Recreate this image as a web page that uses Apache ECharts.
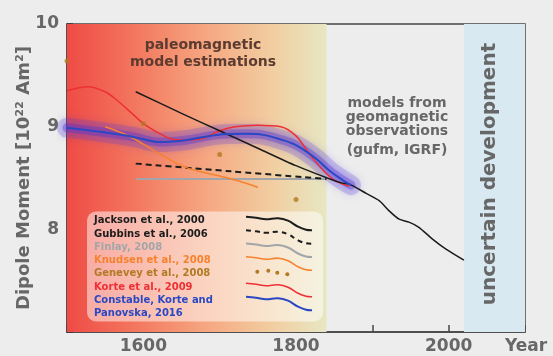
<!DOCTYPE html>
<html><head><meta charset="utf-8">
<script src="https://cdn.jsdelivr.net/npm/echarts@6/dist/echarts.min.js"></script>
<style>html,body{margin:0;padding:0;background:#ededed}#c{width:553px;height:356px}</style>
</head><body><div id="c"></div>
<script>
// ---- data ----
const jacksonYears  = [1590,1650,1700,1750,1800,1848,1861,1870,1892,1909,1922,1935,1948,1961,1978,1996,2020];
const jacksonValues = [9.34,9.13,8.96,8.79,8.62,8.48,8.45,8.44,8.35,8.28,8.18,8.10,8.07,8.02,7.91,7.81,7.70];
const gubbinsYears  = [1590,1715,1840];
const gubbinsValues = [8.64,8.565,8.49];
const finlayYears   = [1590,1715,1840];
const finlayValues  = [8.49,8.49,8.49];
const knudsenYears  = [1550,1575,1600,1625,1650,1675,1700,1725,1750];
const knudsenValues = [9.00,8.93,8.83,8.72,8.62,8.56,8.52,8.47,8.41];
const geneveyYears  = [1500,1600,1700,1800];
const geneveyValues = [9.64,9.03,8.73,8.29];
const korteYears    = [1500,1528,1550,1565,1585,1600,1622,1640,1660,1680,1700,1720,1750,1780,1800,1818,1835,1850,1870];
const korteValues   = [9.35,9.39,9.34,9.26,9.13,9.03,8.93,8.875,8.87,8.89,8.96,9.00,9.015,9.00,8.91,8.73,8.58,8.48,8.42];
const constableYears  = [1500,1543,1587,1622,1657,1696,1735,1757,1778,1800,1826,1844,1861,1872];
const constableValues = [8.99,8.95,8.90,8.85,8.87,8.92,8.93,8.92,8.88,8.82,8.69,8.57,8.48,8.43];
const xTickLabels = [1600,1800,2000];
const yTickLabels = [8,9,10];
const legendLabels = ['Jackson et al., 2000','Gubbins et al., 2006','Finlay, 2008','Knudsen et al., 2008','Genevey et al., 2008','Korte et al., 2009','Constable, Korte and','Panovska, 2016'];
const paleoEnd = 1840, uncertainStart = 2020;

const zip = (a,b) => a.map((v,i)=>[v,b[i]]);
const F = 'DejaVu Sans';
const GREY = '#676767';
const chart = echarts.init(document.getElementById('c'), null, {renderer:'canvas'});

const gradient = {type:'linear',x:0,y:0,x2:1,y2:0,colorStops:[
  {offset:0,color:'#ef4b45'},{offset:0.28,color:'#f37a60'},{offset:0.55,color:'#f6a983'},
  {offset:0.8,color:'#f1cfa2'},{offset:1,color:'#e7e7c3'}]};

// legend symbol wave (offsets)
const wave = [[0,0],[10,1],[20,2.5],[32,1.5],[42,4],[52,10],[60,13],[66,13.5]];
const legendColors = ['#1c1c1c','#1c1c1c','#a2a6aa','#f7822e','#b27a22','#ee3034','#2a48c4','#2a48c4'];
const legendTextY = [220.7,234,247.3,260.3,273.7,287,300.3,313.3];
const graphics = [];
graphics.push({type:'rect',left:87,top:211.5,shape:{width:236,height:110,r:9},style:{fill:'rgba(255,255,255,0.5)'},z:50});
legendLabels.forEach((t,i)=>{
  graphics.push({type:'text',x:94,y:legendTextY[i],style:{text:t,font:'bold 10px "'+F+'"',fill:legendColors[i],textAlign:'left',textVerticalAlign:'middle'},z:51});
});
const symRows = [
  {y:216.7,c:'#1c1c1c',dash:null,w:2},
  {y:230.3,c:'#1c1c1c',dash:[5,4],w:2},
  {y:243.5,c:'#a2a6aa',dash:null,w:2},
  {y:256.7,c:'#f7822e',dash:null,w:1.6},
  {y:283.3,c:'#ee3034',dash:null,w:1.6},
  {y:296.7,c:'#2a48c4',dash:null,w:2}
];
symRows.forEach(r=>{
  graphics.push({type:'polyline',shape:{points:wave.map(p=>[246+p[0],r.y+p[1]]),smooth:0.4},
    style:{stroke:r.c,lineWidth:r.w,lineDash:r.dash,fill:null},z:51});
});
[[257.3,271.7],[268.3,270.7],[277.3,272.7],[287.3,274.3]].forEach(p=>{
  graphics.push({type:'circle',shape:{cx:p[0],cy:p[1],r:2},style:{fill:'#b27a22'},z:51});
});
graphics.push({type:'text',x:203,y:45,style:{text:'paleomagnetic',font:'bold 14px "'+F+'"',fill:'#5c3b31',textAlign:'center',textVerticalAlign:'middle'},z:51});
graphics.push({type:'text',x:203,y:62.7,style:{text:'model estimations',font:'bold 14px "'+F+'"',fill:'#5c3b31',textAlign:'center',textVerticalAlign:'middle'},z:51});
[['models from',103.3],['geomagnetic',117.3],['observations',131],['(gufm, IGRF)',150.7]].forEach(l=>{
  graphics.push({type:'text',x:397,y:l[1],style:{text:l[0],font:'bold 14px "'+F+'"',fill:GREY,textAlign:'center',textVerticalAlign:'middle'},z:51});
});
graphics.push({type:'text',x:490,y:174,rotation:Math.PI/2,style:{text:'uncertain development',font:'bold 20px "'+F+'"',fill:GREY,textAlign:'center',textVerticalAlign:'middle'},z:51});

const lineBase = {type:'line',showSymbol:false,symbol:'none',smooth:0.35,z:3};
const constableData = zip(constableYears,constableValues);
chart.setOption({
  backgroundColor:'#ededed',
  animation:false,
  grid:{left:67,right:28,top:24,bottom:24,show:true,borderColor:'#454545',borderWidth:1.5,backgroundColor:'transparent',containLabel:false},
  xAxis:{type:'value',min:1500,max:2100,interval:100,
    name:'Year',nameLocation:'end',nameGap:-20,nameMoveOverlap:false,
    nameTextStyle:{fontFamily:F,fontWeight:'bold',fontSize:17,color:GREY,align:'left',verticalAlign:'top',padding:[6,0,0,0]},
    axisLine:{show:true,onZero:false,lineStyle:{color:'#454545',width:1.5}},
    axisTick:{show:true,inside:true,length:7,lineStyle:{color:'#454545',width:1.5}},
    axisLabel:{fontFamily:F,fontWeight:'bold',fontSize:17,color:GREY,margin:6,
      formatter:v=>xTickLabels.includes(v)?String(v):''},
    splitLine:{show:false}},
  yAxis:{type:'value',min:7,max:10,interval:1,
    name:'Dipole Moment [10²² Am²]',nameLocation:'middle',nameGap:34,nameRotate:90,nameMoveOverlap:false,
    nameTextStyle:{fontFamily:F,fontWeight:'bold',fontSize:18,color:GREY},
    axisLine:{show:true,onZero:false,lineStyle:{color:'#454545',width:1.5}},
    axisTick:{show:true,inside:true,length:6,lineStyle:{color:'#333',width:1.5}},
    axisLabel:{fontFamily:F,fontWeight:'bold',fontSize:17,color:GREY,margin:8,
      formatter:v=>yTickLabels.includes(v)?String(v):''},
    splitLine:{show:false}},
  graphic:{elements:graphics},
  series:[
    {type:'line',data:[],z:-1,silent:true,
      markArea:{silent:true,data:[
        [{xAxis:1500,itemStyle:{color:gradient}},{xAxis:paleoEnd}],
        [{xAxis:uncertainStart,itemStyle:{color:'#d8e9f1'}},{xAxis:2100}]]}},
    Object.assign({},lineBase,{name:'glow-outer',data:constableData,clip:false,z:2,
      lineStyle:{width:20,color:'rgba(90,60,215,0.22)',shadowBlur:10,shadowColor:'rgba(80,60,230,0.6)',cap:'round'}}),
    Object.assign({},lineBase,{name:'glow-inner',data:constableData,clip:false,z:2,
      lineStyle:{width:9,color:'rgba(80,50,210,0.35)',shadowBlur:8,shadowColor:'rgba(80,50,220,0.6)',cap:'round'}}),
    Object.assign({},lineBase,{name:legendLabels[2],data:zip(finlayYears,finlayValues),lineStyle:{width:2,color:'#a2a6aa'}}),
    Object.assign({},lineBase,{name:legendLabels[1],data:zip(gubbinsYears,gubbinsValues),lineStyle:{width:2,color:'#1c1c1c',type:[6,4]}}),
    Object.assign({},lineBase,{name:legendLabels[3],data:zip(knudsenYears,knudsenValues),lineStyle:{width:1.5,color:'#f7822e'}}),
    Object.assign({},lineBase,{name:legendLabels[5],data:zip(korteYears,korteValues),lineStyle:{width:1.5,color:'#ee3034'}}),
    Object.assign({},lineBase,{name:legendLabels[0],data:zip(jacksonYears,jacksonValues),smooth:0.25,lineStyle:{width:1.5,color:'#1c1c1c'}}),
    Object.assign({},lineBase,{name:'Constable, Korte and Panovska, 2016',data:constableData,lineStyle:{width:2,color:'#2a48c4'}}),
    {type:'scatter',name:legendLabels[4],data:zip(geneveyYears,geneveyValues),symbolSize:5,clip:false,itemStyle:{color:'#b27a22'},z:4}
  ]
});
</script></body></html>
